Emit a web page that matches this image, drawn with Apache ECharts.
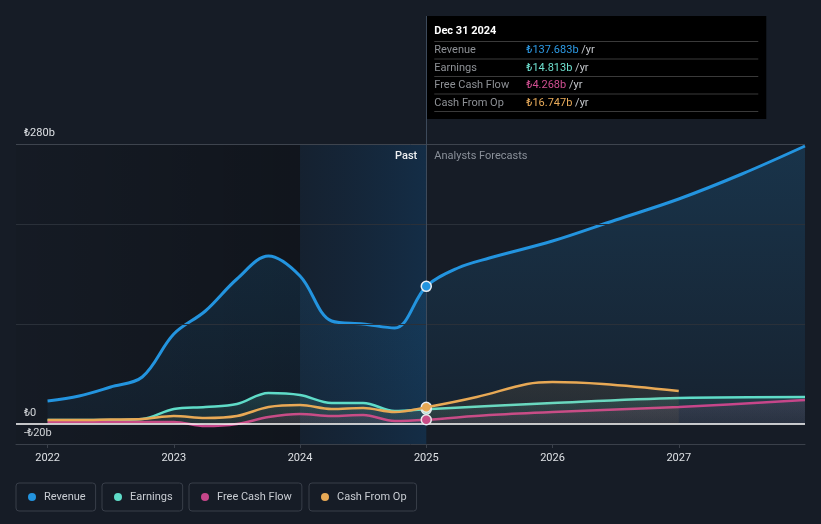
<!DOCTYPE html>
<html>
<head>
<meta charset="utf-8">
<script src="https://cdn.jsdelivr.net/npm/echarts@6/dist/echarts.min.js"></script>
<style>
  html, body { margin: 0; padding: 0; background: #161c26; }
  #chart { width: 821px; height: 524px; }
</style>
</head>
<body>
<div id="chart"></div>
<script>
// past values are trailing twelve months at quarter ends (₺b)
const pastYears = [2022, 2022.25, 2022.5, 2022.75, 2023, 2023.25, 2023.5, 2023.75, 2024, 2024.25, 2024.5, 2024.75, 2025]
const revenuePast = [23, 28, 37, 47, 90, 113, 145, 168, 148, 103, 100, 96, 137.683]
const earningsPast = [4, 4, 4, 5, 15, 17, 20, 31, 29, 21, 21, 13, 14.813]
const fcfPast = [2, 2, 2, 2, 2, -2, 0, 7, 10, 8, 9, 3, 4.268]
const cfoPast = [4, 4, 4.5, 5, 8, 6, 8, 17, 19, 15, 16, 12, 16.747]

// analyst forecasts
const revenueFcYears = [2025.25, 2025.5, 2026, 2026.5, 2027, 2027.5, 2028]
const revenueFc = [156, 166, 183, 204, 225, 250, 278]
const earningsFcYears = [2026, 2027, 2028]
const earningsFc = [21, 26, 27]
const fcfFcYears = [2025.5, 2026, 2027, 2028]
const fcfFc = [9, 12, 17, 24]
const cfoFcYears = [2025.4, 2025.8, 2026, 2026.4, 2027]
const cfoFc = [27, 40, 42, 40, 33]

const yearLabels = [2022, 2023, 2024, 2025, 2026, 2027]
const yLabels = [-20, 0, 280]
const gridValues = [100, 200]
const pastStart = 2021.75
const pastEnd = 2024
const nowYear = 2025
const topValue = 280
const tooltipDate = 'Dec 31 2024'

const names = ['Revenue', 'Earnings', 'Free Cash Flow', 'Cash From Op']
const colors = ['#2394df', '#5fdcc8', '#c6468a', '#e8a955']
const textColors = ['#2d9be6', '#6ee0cf', '#d14f92', '#e8ab5a']

const FONT = 'Roboto, sans-serif'

function pairs (xs, ys) {
  return xs.map((x, i) => [x, ys[i]])
}

function fmt (v) {
  if (v === 0) return '₺0'
  return (v < 0 ? '-₺' + (-v) : '₺' + v) + 'b'
}

function lineSeries (idx, data, width, areaTop, areaBottom, z) {
  const c = colors[idx]
  const last = data.find(d => d[0] === nowYear)
  return {
    type: 'line',
    name: names[idx],
    data: data,
    smooth: 0.35,
    showSymbol: false,
    silent: true,
    z: z,
    lineStyle: { color: c, width: width },
    itemStyle: { color: c },
    areaStyle: {
      color: new echarts.graphic.LinearGradient(0, 0, 0, 1, [
        { offset: 0, color: areaTop },
        { offset: 1, color: areaBottom }
      ])
    },
    markPoint: {
      silent: true,
      symbol: 'circle',
      symbolSize: 10,
      label: { show: false },
      itemStyle: { color: c, borderColor: '#e8eef5', borderWidth: 1.5 },
      data: [{ coord: last }]
    }
  }
}

const chart = echarts.init(document.getElementById('chart'))

const legends = names.map((n, i) => ({
  data: [n],
  left: [16, 102, 189, 309][i],
  top: 483,
  icon: 'circle',
  itemWidth: 8,
  itemHeight: 8,
  padding: [7, 10, 7, 12],
  borderColor: '#383e49',
  borderWidth: 1,
  borderRadius: 3,
  selectedMode: false,
  textStyle: { color: '#c9cdd3', fontSize: 11, fontFamily: FONT, lineHeight: 14, padding: [0, 0, 0, 3] }
}))

const option = {
  backgroundColor: '#161c26',
  animation: false,
  textStyle: { fontFamily: FONT },
  legend: legends,
  grid: { left: 16, right: 16, top: 16, bottom: 80 },
  xAxis: {
    type: 'value',
    min: pastStart,
    max: 2028,
    axisLine: { onZero: false, lineStyle: { color: '#3a404a', width: 1 } },
    axisTick: { customValues: yearLabels, length: 4, lineStyle: { color: '#3a404a' } },
    axisLabel: {
      customValues: yearLabels,
      formatter: v => String(v),
      color: '#dde0e4',
      fontSize: 11,
      margin: 9
    },
    splitLine: { show: false }
  },
  yAxis: {
    type: 'value',
    min: -20,
    max: 408,
    axisLine: { show: false },
    axisTick: { show: false },
    splitLine: { show: false },
    axisLabel: {
      customValues: yLabels,
      inside: true,
      margin: 8,
      formatter: fmt,
      color: '#dde0e4',
      fontSize: 11,
      verticalAlign: 'bottom',
      padding: [0, 0, 5, 0]
    }
  },
  series: [
    {
      // background regions and reference lines
      type: 'line',
      data: [],
      silent: true,
      z: 0,
      markArea: {
        silent: true,
        label: { show: false },
        data: [
          [{
            xAxis: pastStart,
            yAxis: -20,
            itemStyle: {
              color: new echarts.graphic.LinearGradient(0, 0, 1, 0, [
                { offset: 0, color: 'rgba(0,0,0,0.05)' },
                { offset: 1, color: 'rgba(0,0,0,0.25)' }
              ])
            }
          }, { xAxis: pastEnd, yAxis: topValue }],
          [{
            xAxis: pastEnd,
            yAxis: -20,
            itemStyle: {
              color: new echarts.graphic.LinearGradient(0, 0, 1, 0, [
                { offset: 0, color: 'rgba(15,70,120,0.12)' },
                { offset: 1, color: 'rgba(15,85,145,0.3)' }
              ])
            }
          }, { xAxis: nowYear, yAxis: topValue }]
        ]
      },
      markLine: {
        silent: true,
        symbol: ['none', 'none'],
        label: { show: false },
        data: [
          ...gridValues.map(v => ({ yAxis: v, lineStyle: { color: '#2a3039', width: 1, type: 'solid' } })),
          { yAxis: topValue, lineStyle: { color: '#3e444e', width: 1, type: 'solid' } },
          [{ coord: [nowYear, 408], lineStyle: { color: '#3d4a5b', width: 1, type: 'solid' } }, { coord: [nowYear, 0] }]
        ]
      }
    },
    lineSeries(0, pairs(pastYears, revenuePast).concat(pairs(revenueFcYears, revenueFc)), 3, 'rgba(35,148,223,0.28)', 'rgba(35,148,223,0.08)', 2),
    lineSeries(1, pairs(pastYears, earningsPast).concat(pairs(earningsFcYears, earningsFc)), 2.5, 'rgba(95,220,200,0.22)', 'rgba(95,220,200,0.1)', 3),
    lineSeries(2, pairs(pastYears, fcfPast).concat(pairs(fcfFcYears, fcfFc)), 2.5, 'rgba(198,70,138,0.18)', 'rgba(198,70,138,0.1)', 4),
    lineSeries(3, pairs(pastYears, cfoPast).concat(pairs(cfoFcYears, cfoFc)), 2.5, 'rgba(232,169,85,0.15)', 'rgba(232,169,85,0.08)', 5),
    {
      // zero line on top of area fills
      type: 'line',
      data: [],
      silent: true,
      z: 6,
      markLine: {
        silent: true,
        symbol: ['none', 'none'],
        label: { show: false },
        data: [{ yAxis: 0, lineStyle: { color: '#ffffff', width: 1.5, type: 'solid' } }]
      }
    }
  ]
}

chart.setOption(option)

// static tooltip and Past / Forecast captions, anchored on the axis scale
const nowPt = chart.convertToPixel({ gridIndex: 0 }, [nowYear, topValue])
const tipX = nowPt[0]
const tipY = 16
const lastVals = [revenuePast, earningsPast, fcfPast, cfoPast].map(a => a[a.length - 1])

const tipChildren = [
  { type: 'rect', shape: { x: tipX, y: tipY, width: 340, height: 103 }, style: { fill: '#000000' } },
  {
    type: 'text', x: tipX + 8, y: tipY + 15,
    style: { text: tooltipDate, fill: '#ffffff', font: 'bold 11px ' + FONT, verticalAlign: 'middle' }
  }
]
const sepY = [41.5, 59, 76.5, 94, 111.5]
sepY.forEach(y => {
  tipChildren.push({
    type: 'line',
    shape: { x1: tipX + 8, y1: y, x2: tipX + 332, y2: y },
    style: { stroke: '#3a3a3a', lineWidth: 1 }
  })
})
names.forEach((n, i) => {
  const cy = (sepY[i] + sepY[i + 1]) / 2
  tipChildren.push({
    type: 'text', x: tipX + 8, y: cy,
    style: { text: n, fill: '#8e9196', font: '11px ' + FONT, verticalAlign: 'middle' }
  })
  tipChildren.push({
    type: 'text', x: tipX + 100, y: cy,
    style: {
      text: '{v|₺' + lastVals[i].toFixed(3) + 'b}{u| /yr}',
      verticalAlign: 'middle',
      rich: {
        v: { fill: textColors[i], font: '11px ' + FONT },
        u: { fill: '#c4c7cc', font: '11px ' + FONT }
      }
    }
  })
})

chart.setOption({
  graphic: [
    { type: 'group', z: 100, children: tipChildren },
    {
      type: 'text', x: nowPt[0] - 9, y: nowPt[1] + 12, z: 50,
      style: { text: 'Past', fill: '#eef0f2', font: '500 11px ' + FONT, align: 'right', verticalAlign: 'middle' }
    },
    {
      type: 'text', x: nowPt[0] + 8, y: nowPt[1] + 12, z: 50,
      style: { text: 'Analysts Forecasts', fill: '#8a9099', font: '11px ' + FONT, align: 'left', verticalAlign: 'middle' }
    }
  ]
})
</script>
</body>
</html>
